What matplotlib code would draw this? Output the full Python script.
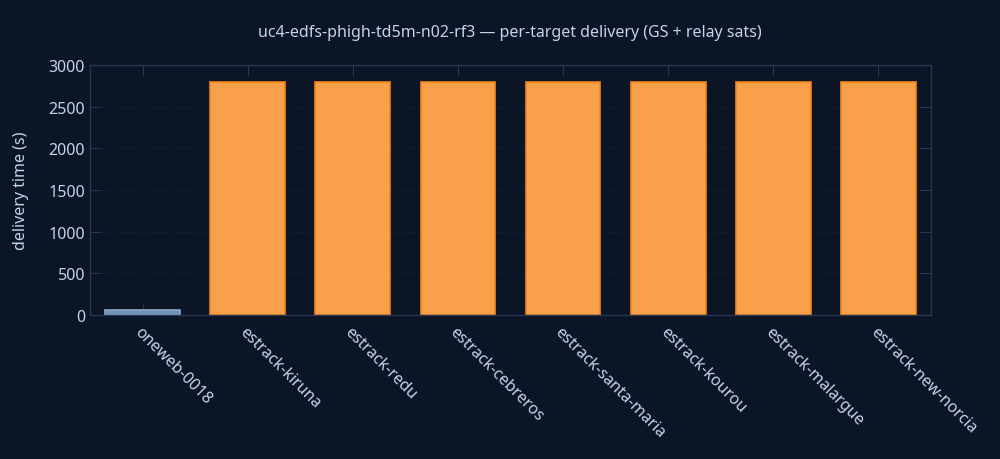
import matplotlib.pyplot as plt

# data
targets = ['oneweb-0018', 'estrack-kiruna', 'estrack-redu', 'estrack-cebreros',
           'estrack-santa-maria', 'estrack-kourou', 'estrack-malargue',
           'estrack-new-norcia']
delivery_s = [60, 2800, 2800, 2800, 2800, 2800, 2800, 2800]
kinds = ['sat', 'gs', 'gs', 'gs', 'gs', 'gs', 'gs', 'gs']

bg = '#0b1526'
txt = '#c4d3ea'
frame = '#2a3550'
face = {'sat': '#7090b8', 'gs': '#f9a04a'}
edge = {'sat': '#8aa6cc', 'gs': '#f58518'}

plt.rcParams['font.family'] = ['Noto Sans', 'DejaVu Sans']

fig = plt.figure(figsize=(10, 4.6), dpi=100, facecolor=bg)
ax = fig.add_axes([0.09, 0.313, 0.841, 0.543], facecolor=bg)

x = range(len(targets))
ax.bar(x, delivery_s, width=0.71,
       color=[face[k] for k in kinds],
       edgecolor=[edge[k] for k in kinds], linewidth=1.2, zorder=2)

ax.set_xlim(-0.5, len(targets) - 0.5)
ax.set_ylim(0, 3000)
ax.set_yticks([0, 500, 1000, 1500, 2000, 2500, 3000])
ax.set_xticks(list(x))
ax.set_xticklabels(targets, rotation=-45, ha='left', rotation_mode='anchor')

ax.grid(axis='y', color='#1a2538', linestyle=':', linewidth=0.8, zorder=0)
for s in ax.spines.values():
    s.set_color(frame)
    s.set_linewidth(1)
ax.tick_params(direction='in', top=True, right=True, color=frame,
               length=8, labelsize=11.5, labelcolor=txt)
ax.tick_params(axis='x', pad=6)

ax.set_ylabel('delivery time (s)', color=txt, fontsize=11.5, labelpad=14)
fig.text(0.51, 0.928, 'uc4-edfs-phigh-td5m-n02-rf3 \u2014 per-target delivery (GS + relay sats)',
         ha='center', va='center', color=txt, fontsize=11.5)

fig.savefig('out.png', facecolor=bg)
